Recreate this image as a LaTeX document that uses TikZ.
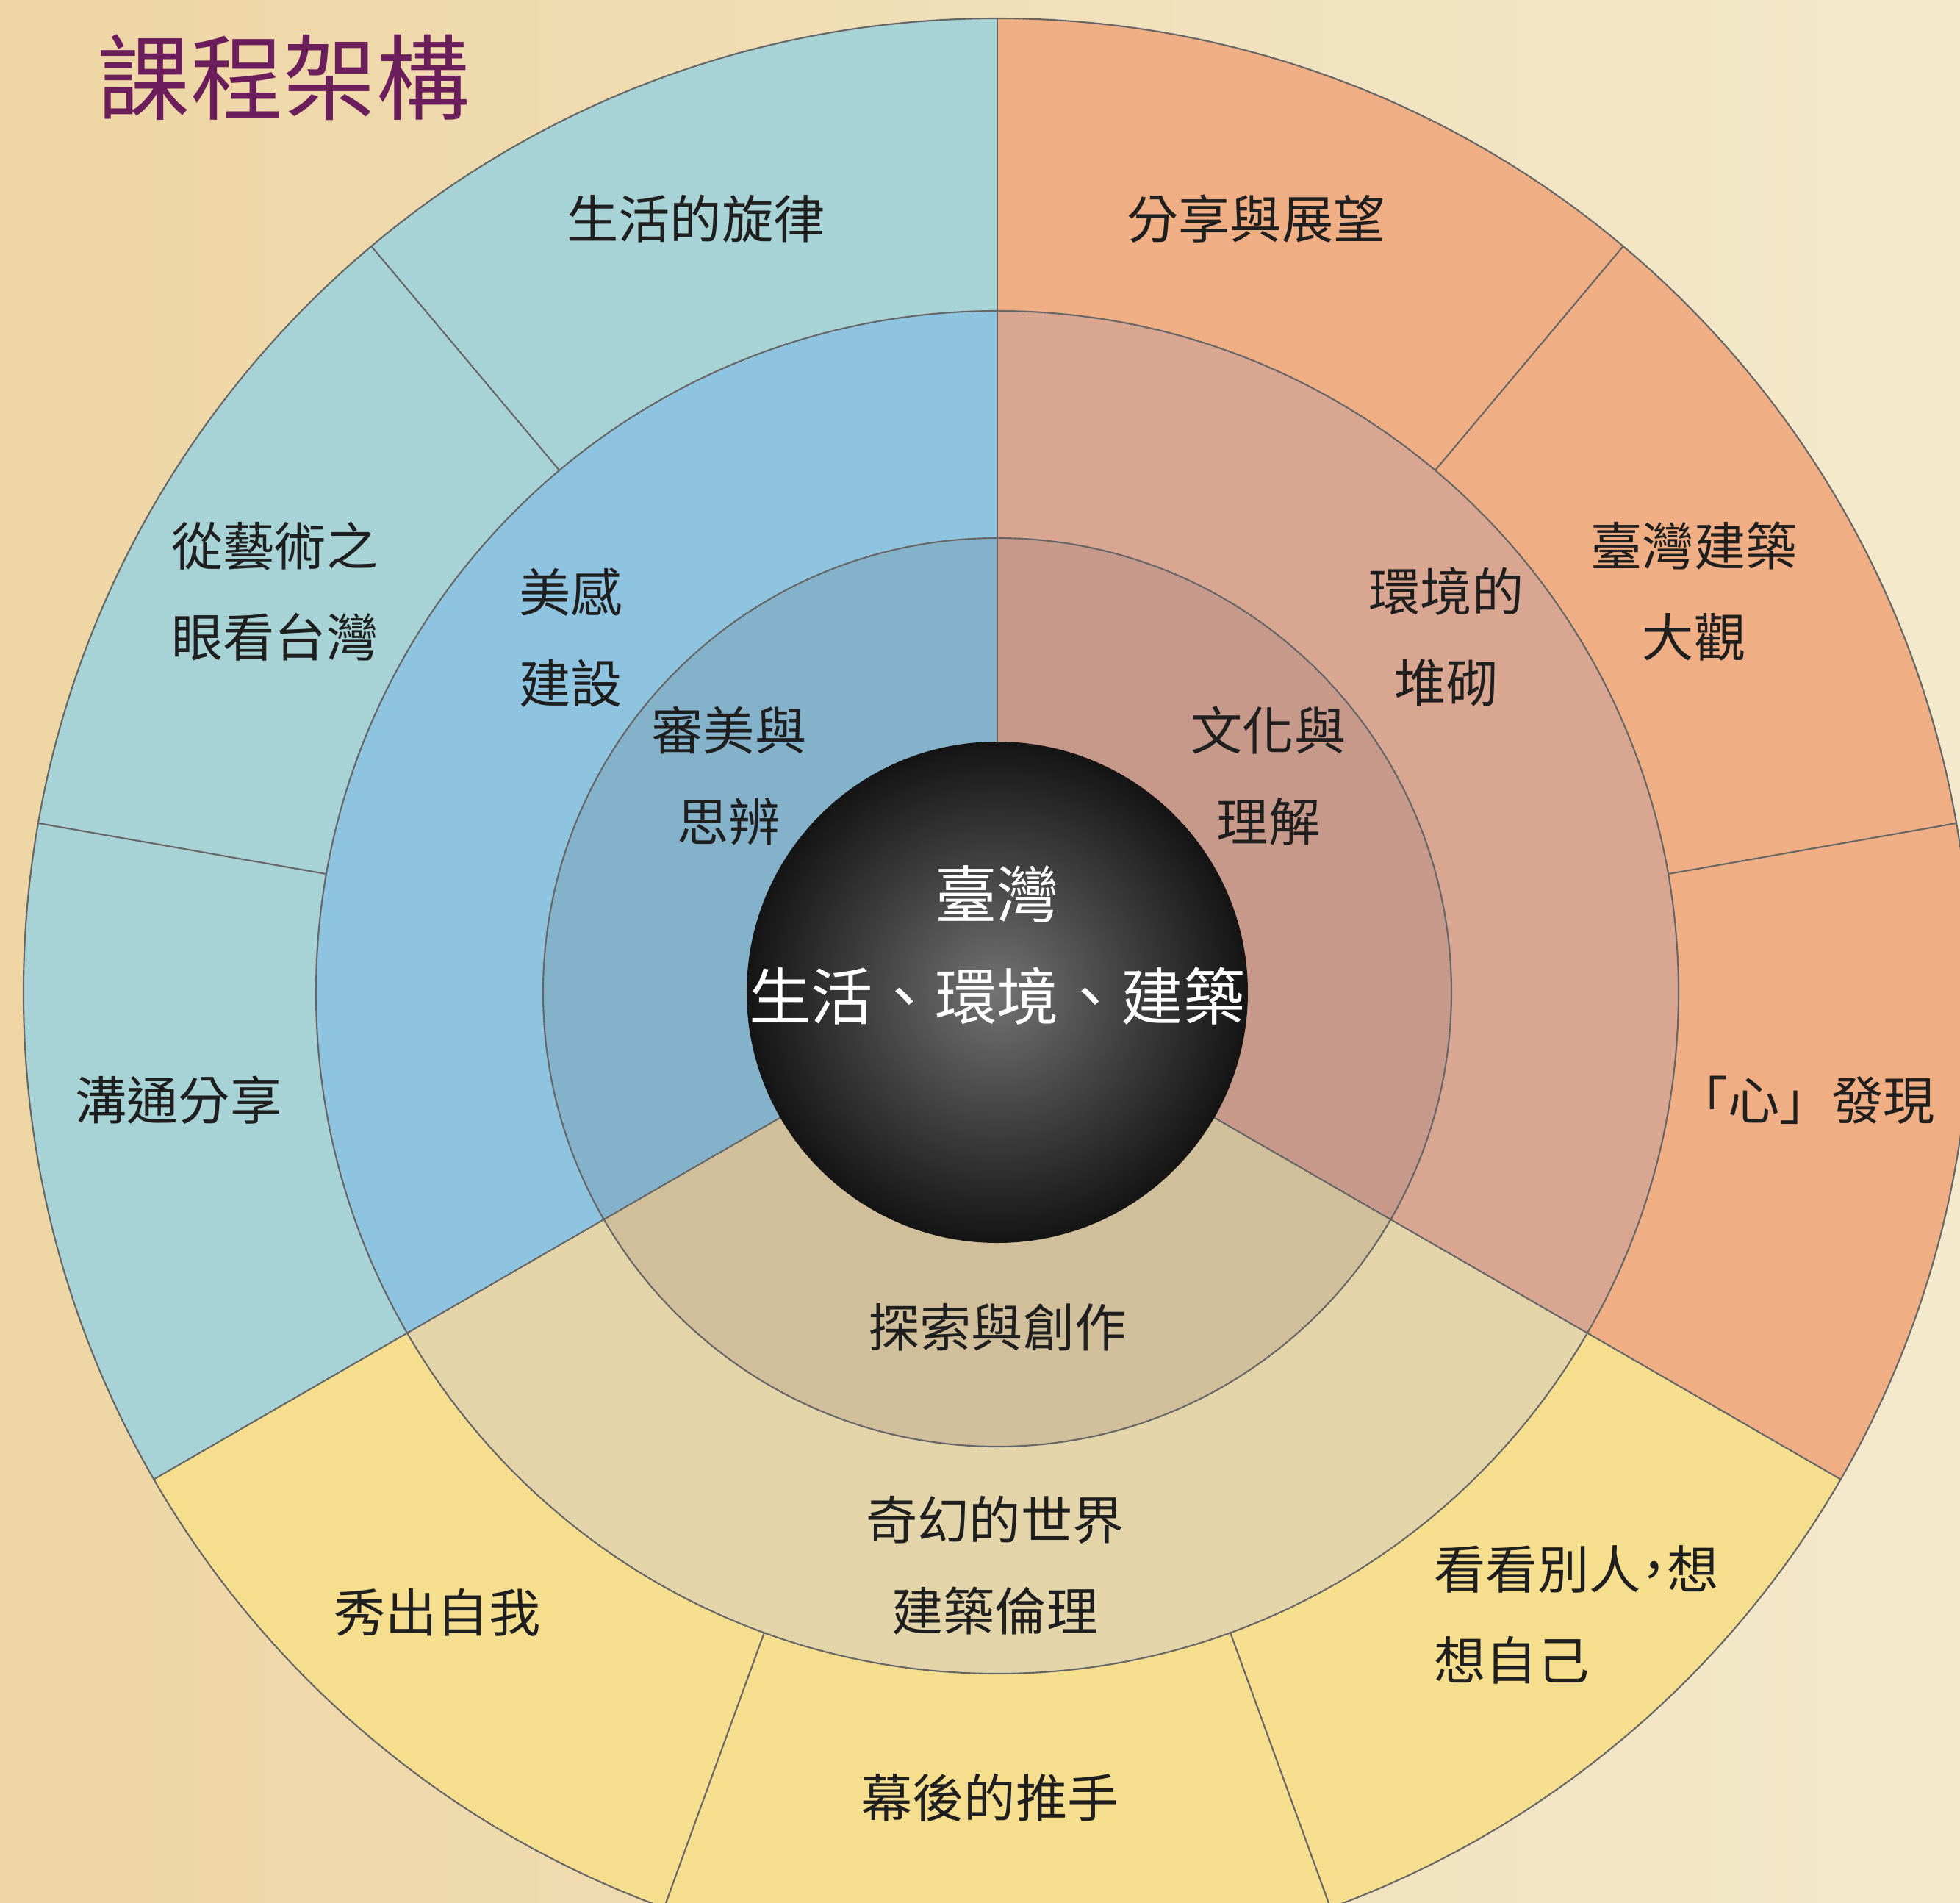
\documentclass[tikz,border=0pt]{standalone}
\usepackage{fontspec}
\setmainfont{Noto Sans CJK TC}
\usepackage{tikz}
\usetikzlibrary{positioning}

\definecolor{bgleft}{HTML}{EED5A3}
\definecolor{bgright}{HTML}{F3E9CC}
\definecolor{titlepurple}{HTML}{6C1D5B}
\definecolor{blueout}{HTML}{A7D2D6}
\definecolor{bluemid}{HTML}{8FC4E0}
\definecolor{bluein}{HTML}{85B2CB}
\definecolor{orangeout}{HTML}{F0AE84}
\definecolor{orangemid}{HTML}{D9A692}
\definecolor{orangein}{HTML}{C7998A}
\definecolor{yellowout}{HTML}{F6DE8F}
\definecolor{yellowmid}{HTML}{E3D4A9}
\definecolor{yellowin}{HTML}{D0BF9A}

\pgfdeclareradialshading{blackball}{\pgfpoint{0bp}{0bp}}{color(0bp)=(black!55); color(14bp)=(black!76); color(25bp)=(black!92); color(50bp)=(black!92)}

\tikzset{
  lbl/.style={font=\fontsize{20}{35.3}\selectfont, align=center, text=black!88, inner sep=0pt},
  core/.style={font=\fontsize{24}{39.7}\selectfont, align=center, text=white, inner sep=0pt},
  sep/.style={draw=black!60, line width=0.6pt},
}
% one pie slice from angle #2 to #3, radius #4
\newcommand{\pieslice}[4]{\fill[#1] (0,0) -- (#2:#4) arc (#2:#3:#4) -- cycle;}

\begin{document}
\begin{tikzpicture}
\useasboundingbox (-13.57,-12.38) rectangle (13.10,13.50);
\clip (-13.57,-12.38) rectangle (13.10,13.50);
\fill[left color=bgleft, right color=bgright] (-13.57,-12.38) rectangle (13.10,13.50);

% rings: outer, middle, inner
\pieslice{blueout}{90}{210}{13.25}
\pieslice{yellowout}{210}{330}{13.25}
\pieslice{orangeout}{-30}{90}{13.25}
\pieslice{bluemid}{90}{210}{9.27}
\pieslice{yellowmid}{210}{330}{9.27}
\pieslice{orangemid}{-30}{90}{9.27}
\pieslice{bluein}{90}{210}{6.18}
\pieslice{yellowin}{210}{330}{6.18}
\pieslice{orangein}{-30}{90}{6.18}

\draw[sep] (0,0) circle (13.25) (0,0) circle (9.27) (0,0) circle (6.18);
\foreach \a in {90,210,330} \draw[sep] (\a:3.3) -- (\a:13.25);
\foreach \a in {130,170,50,10,250,290} \draw[sep] (\a:9.27) -- (\a:13.25);

\shade[shading=blackball] (0,0) circle (3.41);

\node[font=\fontsize{36}{40}\selectfont, text=titlepurple, inner sep=0pt] (title) at (-9.71,12.45) {課程架構};

\node[core] (core) at (0,0.64) {臺灣\\生活、環境、建築};

% outer ring
\node[lbl] (melody) at (-4.10,10.52) {生活的旋律};
\node[lbl] (outlook) at (3.52,10.52) {分享與展望};
\node[lbl] (arteye) at (-9.83,5.45) {從藝術之\\眼看台灣};
\node[lbl] (overview) at (9.48,5.45) {臺灣建築\\大觀};
\node[lbl] (share) at (-11.14,-1.47) {溝通分享};
\node[lbl] (heart) at (11.0,-1.47) {「心」發現};
\node[lbl] (showme) at (-7.62,-8.44) {秀出自我};
\node[lbl] (backstage) at (-0.10,-10.96) {幕後的推手};
\node[lbl, align=left, anchor=west] (others) at (5.94,-8.47) {看看別人{\addfontfeature{RawFeature=+halt}，}想\\想自己};

% middle ring
\node[lbl] (beauty) at (-5.80,4.83) {美感\\建設};
\node[lbl] (envir) at (6.11,4.83) {環境的\\堆砌};
\node[lbl] (fantasy) at (-0.03,-7.80) {奇幻的世界\\建築倫理};

% inner ring
\node[lbl] (aesth) at (-3.65,2.94) {審美與\\思辨};
\node[lbl] (culture) at (3.69,2.94) {文化與\\理解};
\node[lbl] (explore) at (0,-4.56) {探索與創作};
\end{tikzpicture}
\end{document}
